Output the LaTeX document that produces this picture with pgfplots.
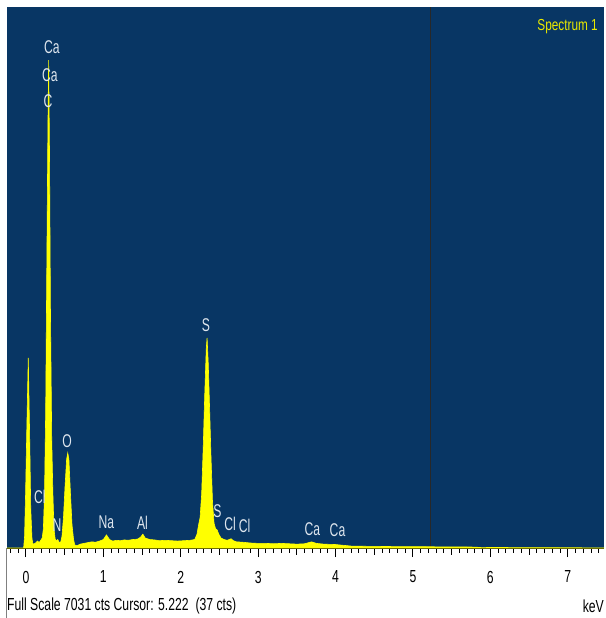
\documentclass[border=0pt]{standalone}
\usepackage{fontspec}
\setmainfont{Liberation Sans}
\newfontfamily\lbl[FakeStretch=0.66]{Liberation Sans}
\newfontfamily\tck[FakeStretch=0.70]{Liberation Sans}
\newfontfamily\spc[FakeStretch=0.74]{Liberation Sans}
\usepackage{pgfplots}
\pgfplotsset{compat=1.18}
\definecolor{bgblue}{RGB}{8,54,100}
\definecolor{specyel}{RGB}{255,255,0}
\definecolor{lbltext}{RGB}{222,230,238}
\definecolor{spectext}{RGB}{232,232,0}
\definecolor{cursorgray}{RGB}{40,40,40}
\begin{document}
\begin{tikzpicture}
\path[use as bounding box] (-7bp,-70bp) rectangle (599bp,548bp);
\begin{axis}[
    at={(0,0)}, anchor=south west,
    scale only axis,
    width=597bp, height=541bp,
    xmin=-0.245, xmax=7.468,
    ymin=0, ymax=7031,
    axis background/.style={fill=bgblue},
    axis x line*=bottom,
    axis y line=none,
    axis line style={black, line width=1bp},
    xtick={0,1,...,7},
    xticklabels={0,1,2,3,4,5,6,7},
    minor xtick={-0.2,-0.1,...,7.4},
    extra x ticks={0.5,1.5,2.5,3.5,4.5,5.5,6.5},
    extra x tick labels={},
    extra x tick style={major tick length=6.5bp},
    ytick=\empty,
    tick align=outside,
    tick style={black, line width=1bp},
    major tick length=9bp,
    minor tick length=4.5bp,
    xticklabel style={font=\tck\fontsize{17.5}{17.5}\selectfont, anchor=center, yshift=-20bp},
    clip=true,
]
% cursor
\addplot[cursorgray, line width=1bp] coordinates {(5.222,0) (5.222,7031)};
% spectrum (keV, counts)
\addplot[draw=specyel, fill=specyel, line width=0.6bp] coordinates {
(-0.245,0) (-0.03,0) (-0.018,150) (-0.005,700) (0.012,1600) (0.03,2470) (0.047,1500)
(0.062,500) (0.078,120) (0.09,50) (0.12,60) (0.15,90) (0.17,70) (0.19,100)
(0.21,130) (0.225,250) (0.24,700) (0.255,1800) (0.272,4000) (0.284,5500)
(0.293,6340) (0.303,5300) (0.317,3000) (0.333,1400) (0.348,700) (0.362,250)
(0.377,120) (0.39,90) (0.41,110) (0.43,70) (0.45,80) (0.465,150) (0.485,400)
(0.505,800) (0.525,1150) (0.54,1235) (0.555,1150) (0.575,700) (0.595,300)
(0.615,110) (0.63,40) (0.66,30) (0.70,50) (0.75,60) (0.80,70) (0.85,80)
(0.90,75) (0.95,90) (1.00,110) (1.04,170) (1.08,110) (1.12,90) (1.17,100)
(1.22,95) (1.27,105) (1.32,100) (1.38,110) (1.44,115) (1.48,140) (1.51,180)
(1.54,130) (1.60,110) (1.66,105) (1.72,95) (1.80,100) (1.88,95) (1.96,90)
(2.04,95) (2.12,100) (2.18,110) (2.21,180) (2.23,300) (2.25,400) (2.27,700)
(2.29,1300) (2.31,2000) (2.33,2600) (2.34,2730) (2.355,2400) (2.37,1900)
(2.39,1200) (2.41,600) (2.43,320) (2.45,250) (2.47,235) (2.49,180)
(2.52,130) (2.56,110) (2.60,100) (2.65,120) (2.68,95) (2.72,80) (2.80,75)
(2.90,65) (3.00,60) (3.10,60) (3.20,55) (3.30,60) (3.40,55) (3.50,50)
(3.60,55) (3.69,80) (3.75,60) (3.85,50) (4.00,45) (4.10,35) (4.20,25)
(4.40,22) (4.60,20) (4.80,18) (5.00,18) (5.20,16) (5.40,15) (5.60,14)
(5.80,12) (5.90,4) (6.00,8) (6.20,6) (6.40,5) (6.60,4) (7.00,3) (7.468,2)
} \closedcycle;
% peak labels
\begin{scope}[every node/.style={text=lbltext, font=\lbl\fontsize{18.5}{18.5}\selectfont, inner sep=0pt}]
\node at (axis cs:0.336,6513) {Ca};
\node at (axis cs:0.31,6149) {Ca};
\node at (axis cs:0.284,5811) {C};
\node at (axis cs:0.18,670) {Cl};
\node at (axis cs:0.40,292) {N};
\node at (axis cs:0.53,1385) {O};
\node at (axis cs:1.04,331) {Na};
\node at (axis cs:1.505,331) {Al};
\node at (axis cs:2.326,2899) {S};
\node at (axis cs:2.474,485) {S};
\node at (axis cs:2.636,312) {Cl};
\node at (axis cs:2.826,290) {Cl};
\node at (axis cs:3.70,250) {Ca};
\node at (axis cs:4.025,234) {Ca};
\end{scope}
\node[anchor=east, inner sep=0pt, text=spectext, font=\spc\fontsize{16}{16}\selectfont] at (axis cs:7.39,6780) {Spectrum 1};
\end{axis}
\draw[gray, line width=0.8bp] (-0.5bp,0) -- (-0.5bp,-70bp);
\node[anchor=west, inner sep=0pt, font=\tck\fontsize{17.5}{17.5}\selectfont] at (0bp,-58bp) {Full Scale 7031 cts Cursor: 5.222\ \ (37 cts)};
\node[anchor=east, inner sep=0pt, font=\tck\fontsize{17.5}{17.5}\selectfont] at (597bp,-58bp) {keV};
\end{tikzpicture}
\end{document}
